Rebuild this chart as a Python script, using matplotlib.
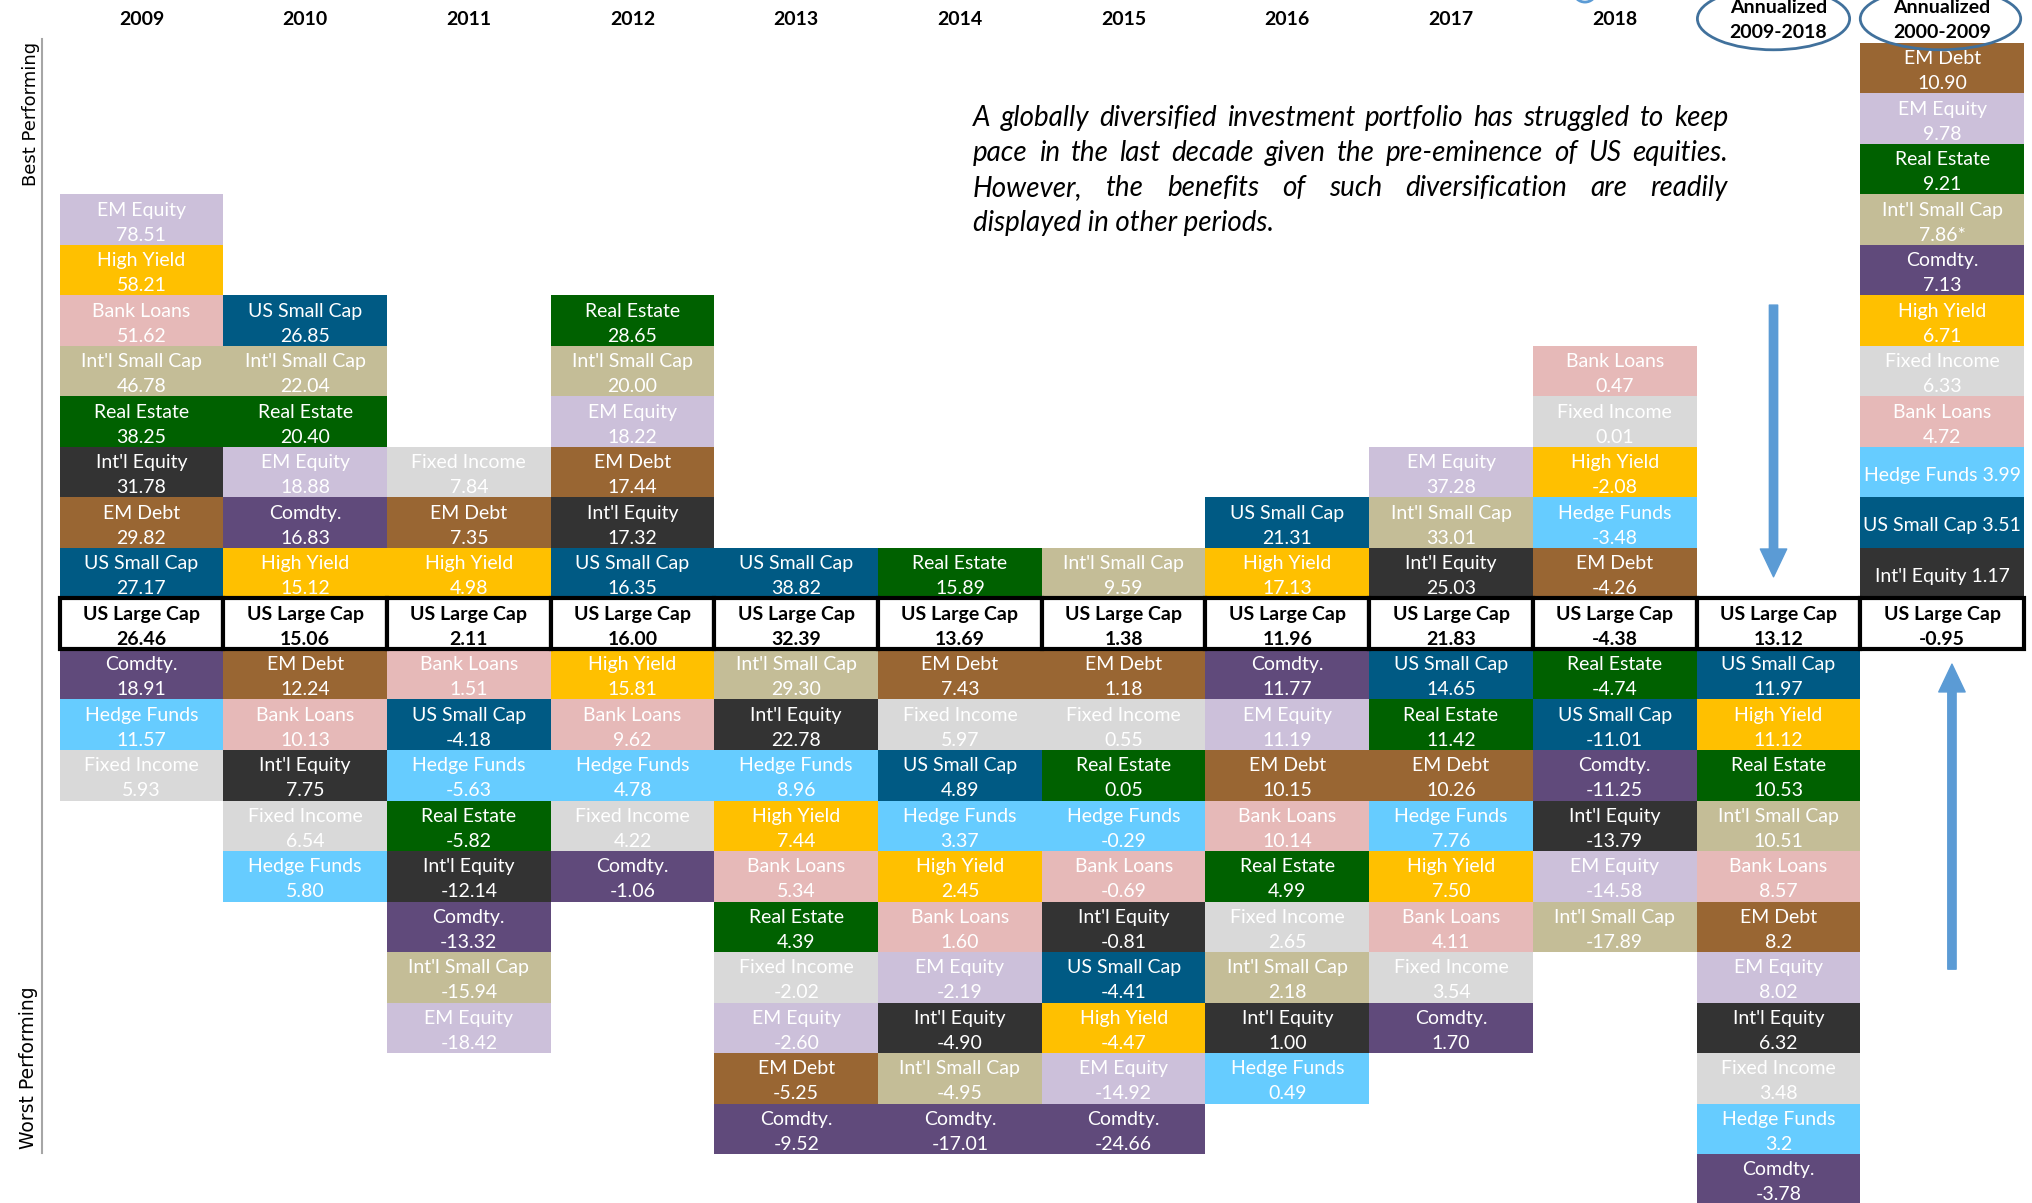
import matplotlib
matplotlib.use("Agg")
import matplotlib.pyplot as plt
from matplotlib.patches import Rectangle, Ellipse

plt.rcParams['font.family'] = ['Lato', 'DejaVu Sans']

# column headers
years = ["2009", "2010", "2011", "2012", "2013", "2014", "2015", "2016", "2017", "2018",
         "Annualized\n2009-2018", "Annualized\n2000-2009"]

# each column ranked best -> worst, US Large Cap included
names_2009 = ["EM Equity", "High Yield", "Bank Loans", "Int'l Small Cap", "Real Estate", "Int'l Equity",
              "EM Debt", "US Small Cap", "US Large Cap", "Comdty.", "Hedge Funds", "Fixed Income"]
vals_2009 = ["78.51", "58.21", "51.62", "46.78", "38.25", "31.78", "29.82", "27.17", "26.46", "18.91", "11.57", "5.93"]

names_2010 = ["US Small Cap", "Int'l Small Cap", "Real Estate", "EM Equity", "Comdty.", "High Yield",
              "US Large Cap", "EM Debt", "Bank Loans", "Int'l Equity", "Fixed Income", "Hedge Funds"]
vals_2010 = ["26.85", "22.04", "20.40", "18.88", "16.83", "15.12", "15.06", "12.24", "10.13", "7.75", "6.54", "5.80"]

names_2011 = ["Fixed Income", "EM Debt", "High Yield", "US Large Cap", "Bank Loans", "US Small Cap",
              "Hedge Funds", "Real Estate", "Int'l Equity", "Comdty.", "Int'l Small Cap", "EM Equity"]
vals_2011 = ["7.84", "7.35", "4.98", "2.11", "1.51", "-4.18", "-5.63", "-5.82", "-12.14", "-13.32", "-15.94", "-18.42"]

names_2012 = ["Real Estate", "Int'l Small Cap", "EM Equity", "EM Debt", "Int'l Equity", "US Small Cap",
              "US Large Cap", "High Yield", "Bank Loans", "Hedge Funds", "Fixed Income", "Comdty."]
vals_2012 = ["28.65", "20.00", "18.22", "17.44", "17.32", "16.35", "16.00", "15.81", "9.62", "4.78", "4.22", "-1.06"]

names_2013 = ["US Small Cap", "US Large Cap", "Int'l Small Cap", "Int'l Equity", "Hedge Funds", "High Yield",
              "Bank Loans", "Real Estate", "Fixed Income", "EM Equity", "EM Debt", "Comdty."]
vals_2013 = ["38.82", "32.39", "29.30", "22.78", "8.96", "7.44", "5.34", "4.39", "-2.02", "-2.60", "-5.25", "-9.52"]

names_2014 = ["Real Estate", "US Large Cap", "EM Debt", "Fixed Income", "US Small Cap", "Hedge Funds",
              "High Yield", "Bank Loans", "EM Equity", "Int'l Equity", "Int'l Small Cap", "Comdty."]
vals_2014 = ["15.89", "13.69", "7.43", "5.97", "4.89", "3.37", "2.45", "1.60", "-2.19", "-4.90", "-4.95", "-17.01"]

names_2015 = ["Int'l Small Cap", "US Large Cap", "EM Debt", "Fixed Income", "Real Estate", "Hedge Funds",
              "Bank Loans", "Int'l Equity", "US Small Cap", "High Yield", "EM Equity", "Comdty."]
vals_2015 = ["9.59", "1.38", "1.18", "0.55", "0.05", "-0.29", "-0.69", "-0.81", "-4.41", "-4.47", "-14.92", "-24.66"]

names_2016 = ["US Small Cap", "High Yield", "US Large Cap", "Comdty.", "EM Equity", "EM Debt",
              "Bank Loans", "Real Estate", "Fixed Income", "Int'l Small Cap", "Int'l Equity", "Hedge Funds"]
vals_2016 = ["21.31", "17.13", "11.96", "11.77", "11.19", "10.15", "10.14", "4.99", "2.65", "2.18", "1.00", "0.49"]

names_2017 = ["EM Equity", "Int'l Small Cap", "Int'l Equity", "US Large Cap", "US Small Cap", "Real Estate",
              "EM Debt", "Hedge Funds", "High Yield", "Bank Loans", "Fixed Income", "Comdty."]
vals_2017 = ["37.28", "33.01", "25.03", "21.83", "14.65", "11.42", "10.26", "7.76", "7.50", "4.11", "3.54", "1.70"]

names_2018 = ["Bank Loans", "Fixed Income", "High Yield", "Hedge Funds", "EM Debt", "US Large Cap",
              "Real Estate", "US Small Cap", "Comdty.", "Int'l Equity", "EM Equity", "Int'l Small Cap"]
vals_2018 = ["0.47", "0.01", "-2.08", "-3.48", "-4.26", "-4.38", "-4.74", "-11.01", "-11.25", "-13.79", "-14.58", "-17.89"]

names_0918 = ["US Large Cap", "US Small Cap", "High Yield", "Real Estate", "Int'l Small Cap", "Bank Loans",
              "EM Debt", "EM Equity", "Int'l Equity", "Fixed Income", "Hedge Funds", "Comdty."]
vals_0918 = ["13.12", "11.97", "11.12", "10.53", "10.51", "8.57", "8.2", "8.02", "6.32", "3.48", "3.2", "-3.78"]

names_0009 = ["EM Debt", "EM Equity", "Real Estate", "Int'l Small Cap", "Comdty.", "High Yield",
              "Fixed Income", "Bank Loans", "Hedge Funds", "US Small Cap", "Int'l Equity", "US Large Cap"]
vals_0009 = ["10.90", "9.78", "9.21", "7.86*", "7.13", "6.71", "6.33", "4.72", "3.99", "3.51", "1.17", "-0.95"]
oneline_0009 = ["Hedge Funds", "US Small Cap", "Int'l Equity"]

all_names = [names_2009, names_2010, names_2011, names_2012, names_2013, names_2014,
             names_2015, names_2016, names_2017, names_2018, names_0918, names_0009]
all_vals = [vals_2009, vals_2010, vals_2011, vals_2012, vals_2013, vals_2014,
            vals_2015, vals_2016, vals_2017, vals_2018, vals_0918, vals_0009]

colors = {
    "EM Equity": "#CCC0DA",
    "High Yield": "#FFC000",
    "Bank Loans": "#E6B9B8",
    "Int'l Small Cap": "#C4BD97",
    "Real Estate": "#006100",
    "Int'l Equity": "#333333",
    "EM Debt": "#996633",
    "US Small Cap": "#005A84",
    "Comdty.": "#604A7B",
    "Hedge Funds": "#66CCFF",
    "Fixed Income": "#D9D9D9",
    "US Large Cap": "#FFFFFF",
}

note_lines = ["A globally diversified investment portfolio has struggled to keep",
              "pace in the last decade given the pre-eminence of US equities.",
              "However, the benefits of such diversification are readily",
              "displayed in other periods."]

fig = plt.figure(figsize=(20.32, 12.03), dpi=100)
ax = fig.add_axes([0, 0, 1, 1])
ax.set_xlim(-0.364, 12.049)
ax.set_ylim(-10.97, 12.851)
ax.axis('off')

for c, (names, vals) in enumerate(zip(all_names, all_vals)):
    k = names.index("US Large Cap")
    ax.text(c + 0.5, 12.46 if c < 10 else 12.45, years[c], ha='center', va='center',
            fontsize=14, fontweight='bold', linespacing=1.55)
    for j, (n, v) in enumerate(zip(names, vals)):
        yb = k - j
        if n == "US Large Cap":
            ax.add_patch(Rectangle((c, yb), 1, 1, facecolor='white', edgecolor='black', lw=3, zorder=3))
            ax.text(c + 0.5, yb + 0.44, f"{n}\n{v}", ha='center', va='center', fontsize=14,
                    fontweight='bold', color='black', linespacing=1.6, zorder=4)
            continue
        ax.add_patch(Rectangle((c, yb), 1, 1, facecolor=colors[n], edgecolor='none', zorder=1))
        if c == 11 and n in oneline_0009:
            label = f"{n} {v}"
        else:
            label = f"{n}\n{v}"
        ax.text(c + 0.5, yb + 0.44, label, ha='center', va='center', fontsize=14,
                color='white', linespacing=1.6, zorder=2)

# ellipses round the annualized headers
for cx, w in [(10.47, 0.93), (11.49, 0.98)]:
    ax.add_patch(Ellipse((cx, 12.48), w, 1.23, fill=False, edgecolor='#41719C', lw=2, zorder=5))
# small stray shape peeking in above 2018
ax.add_patch(Ellipse((9.318, 13.01), 0.134, 0.4, fill=False, edgecolor='#5B9BD5', lw=2))

# arrows
arrow_kw = dict(arrowstyle="simple,head_length=2.0,head_width=1.9,tail_width=0.6",
                color='#5B9BD5', shrinkA=0, shrinkB=0, mutation_scale=10)
ax.annotate("", xy=(10.47, 1.43), xytext=(10.47, 6.81), arrowprops=arrow_kw)
ax.annotate("", xy=(11.56, -0.30), xytext=(11.56, -6.34), arrowprops=arrow_kw)

# side labels
ax.plot([-0.107, -0.107], [12.08, -9.98], color='#A6A6A6', lw=1.5)
ax.text(-0.175, 10.6, "Best Performing", rotation=90, ha='center', va='center', fontsize=13,
        family='DejaVu Sans')
ax.text(-0.19, -8.3, "Worst Performing", rotation=90, ha='center', va='center', fontsize=13.5,
        family='DejaVu Sans')

# justified italic note
note_left, note_right = 5.580, 10.192
note_top, note_step = 10.51, 0.693
renderer = fig.canvas.get_renderer()
for i, line in enumerate(note_lines):
    y = note_top - i * note_step
    if i == len(note_lines) - 1:
        ax.text(note_left, y, line, ha='left', va='center', fontsize=20, style='italic')
        continue
    words = line.split()
    objs = [ax.text(note_left, y, w, ha='left', va='center', fontsize=20, style='italic') for w in words]
    widths = [t.get_window_extent(renderer).width for t in objs]
    x0 = ax.transData.transform((note_left, y))[0]
    x1 = ax.transData.transform((note_right, y))[0]
    gap = (x1 - x0 - sum(widths)) / (len(words) - 1)
    xp = x0
    for t, w in zip(objs, widths):
        t.set_x(ax.transData.inverted().transform((xp, 0))[0])
        xp += w + gap

fig.savefig("out.png", dpi=100)
